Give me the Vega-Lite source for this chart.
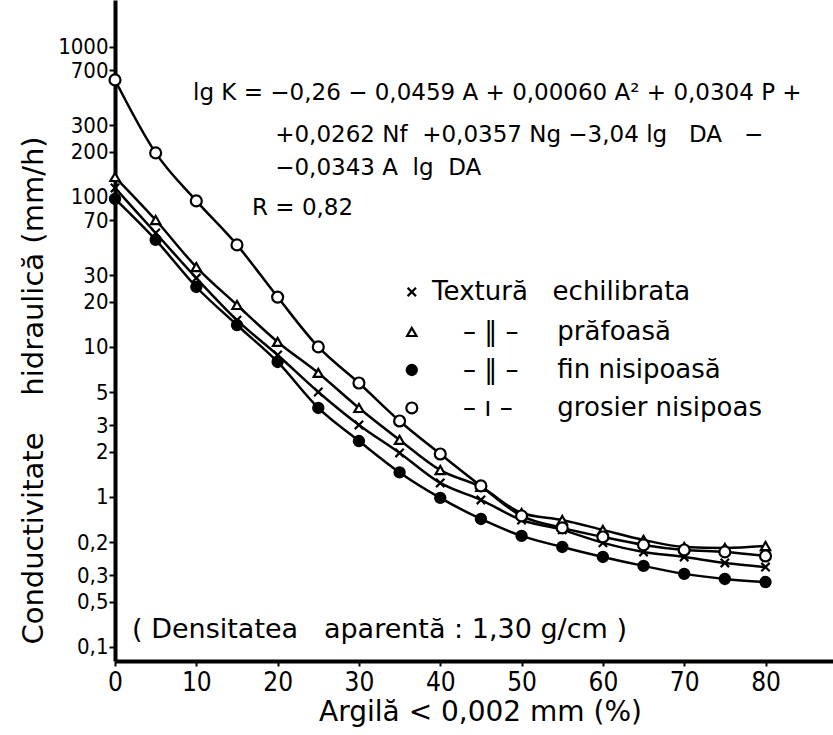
{
  "$schema": "https://vega.github.io/schema/vega-lite/v6.json",
  "width": 718,
  "height": 661,
  "autosize": {"type": "none"},
  "padding": {"left": 115, "top": 0, "right": 0, "bottom": 74},
  "background": "white",
  "config": {
    "view": {"stroke": null},
    "font": "Liberation Sans Narrow, DejaVu Sans Condensed, sans-serif"
  },
  "datasets": {
    "curves": [
      {"series": "Textură echilibrata", "argila": 0, "k": 114.8},
      {"series": "Textură echilibrata", "argila": 5, "k": 57.5},
      {"series": "Textură echilibrata", "argila": 10, "k": 28.8},
      {"series": "Textură echilibrata", "argila": 15, "k": 15.1},
      {"series": "Textură echilibrata", "argila": 20, "k": 8.84},
      {"series": "Textură echilibrata", "argila": 25, "k": 5.01},
      {"series": "Textură echilibrata", "argila": 30, "k": 3.02},
      {"series": "Textură echilibrata", "argila": 35, "k": 1.965},
      {"series": "Textură echilibrata", "argila": 40, "k": 1.24},
      {"series": "Textură echilibrata", "argila": 45, "k": 0.955},
      {"series": "Textură echilibrata", "argila": 50, "k": 0.702},
      {"series": "Textură echilibrata", "argila": 55, "k": 0.603},
      {"series": "Textură echilibrata", "argila": 60, "k": 0.494},
      {"series": "Textură echilibrata", "argila": 65, "k": 0.43},
      {"series": "Textură echilibrata", "argila": 70, "k": 0.398},
      {"series": "Textură echilibrata", "argila": 75, "k": 0.363},
      {"series": "Textură echilibrata", "argila": 80, "k": 0.341},
      {"series": "prăfoasă", "argila": 0, "k": 135.9},
      {"series": "prăfoasă", "argila": 5, "k": 70.2},
      {"series": "prăfoasă", "argila": 10, "k": 34.1},
      {"series": "prăfoasă", "argila": 15, "k": 19.05},
      {"series": "prăfoasă", "argila": 20, "k": 10.8},
      {"series": "prăfoasă", "argila": 25, "k": 6.71},
      {"series": "prăfoasă", "argila": 30, "k": 3.92},
      {"series": "prăfoasă", "argila": 35, "k": 2.4},
      {"series": "prăfoasă", "argila": 40, "k": 1.51},
      {"series": "prăfoasă", "argila": 45, "k": 1.166},
      {"series": "prăfoasă", "argila": 50, "k": 0.782},
      {"series": "prăfoasă", "argila": 55, "k": 0.702},
      {"series": "prăfoasă", "argila": 60, "k": 0.603},
      {"series": "prăfoasă", "argila": 65, "k": 0.517},
      {"series": "prăfoasă", "argila": 70, "k": 0.464},
      {"series": "prăfoasă", "argila": 75, "k": 0.457},
      {"series": "prăfoasă", "argila": 80, "k": 0.471},
      {"series": "fin nisipoasă", "argila": 0, "k": 97.0},
      {"series": "fin nisipoasă", "argila": 5, "k": 51.7},
      {"series": "fin nisipoasă", "argila": 10, "k": 25.1},
      {"series": "fin nisipoasă", "argila": 15, "k": 14.0},
      {"series": "fin nisipoasă", "argila": 20, "k": 7.94},
      {"series": "fin nisipoasă", "argila": 25, "k": 3.92},
      {"series": "fin nisipoasă", "argila": 30, "k": 2.36},
      {"series": "fin nisipoasă", "argila": 35, "k": 1.457},
      {"series": "fin nisipoasă", "argila": 40, "k": 0.985},
      {"series": "fin nisipoasă", "argila": 45, "k": 0.713},
      {"series": "fin nisipoasă", "argila": 50, "k": 0.55},
      {"series": "fin nisipoasă", "argila": 55, "k": 0.464},
      {"series": "fin nisipoasă", "argila": 60, "k": 0.398},
      {"series": "fin nisipoasă", "argila": 65, "k": 0.347},
      {"series": "fin nisipoasă", "argila": 70, "k": 0.307},
      {"series": "fin nisipoasă", "argila": 75, "k": 0.284},
      {"series": "fin nisipoasă", "argila": 80, "k": 0.271},
      {"series": "grosier nisipoas", "argila": 0, "k": 602.6},
      {"series": "grosier nisipoas", "argila": 5, "k": 196.6},
      {"series": "grosier nisipoas", "argila": 10, "k": 94.1},
      {"series": "grosier nisipoas", "argila": 15, "k": 47.9},
      {"series": "grosier nisipoas", "argila": 20, "k": 21.5},
      {"series": "grosier nisipoas", "argila": 25, "k": 10.0},
      {"series": "grosier nisipoas", "argila": 30, "k": 5.75},
      {"series": "grosier nisipoas", "argila": 35, "k": 3.21},
      {"series": "grosier nisipoas", "argila": 40, "k": 1.934},
      {"series": "grosier nisipoas", "argila": 45, "k": 1.184},
      {"series": "grosier nisipoas", "argila": 50, "k": 0.747},
      {"series": "grosier nisipoas", "argila": 55, "k": 0.622},
      {"series": "grosier nisipoas", "argila": 60, "k": 0.541},
      {"series": "grosier nisipoas", "argila": 65, "k": 0.479},
      {"series": "grosier nisipoas", "argila": 70, "k": 0.443},
      {"series": "grosier nisipoas", "argila": 75, "k": 0.43},
      {"series": "grosier nisipoas", "argila": 80, "k": 0.404}
    ],
    "notes": [
      {"t": "lg K = −0,26 − 0,0459 A + 0,00060 A² + 0,0304 P +", "argila": 9.6, "k": 493},
      {"t": "+0,0262 Nf\u00a0\u00a0+0,0357 Ng −3,04 lg\u00a0\u00a0\u00a0DA\u00a0\u00a0\u00a0−", "argila": 19.7, "k": 259},
      {"t": "−0,0343 A\u00a0\u00a0lg\u00a0\u00a0DA", "argila": 19.7, "k": 156},
      {"t": "R = 0,82", "argila": 16.85, "k": 84.5}
    ],
    "note2": [
      {"t": "( Densitatea\u00a0\u00a0\u00a0aparentă : 1,30 g/cm )", "argila": 2.1, "k": 0.13}
    ],
    "legendSymbols": [
      {"series": "Textură echilibrata", "argila": 36.5, "k": 23.26},
      {"series": "prăfoasă", "argila": 36.5, "k": 12.59},
      {"series": "fin nisipoasă", "argila": 36.5, "k": 7.02},
      {"series": "grosier nisipoas", "argila": 36.5, "k": 3.92}
    ],
    "legendLabels": [
      {"t": "Textură\u00a0\u00a0\u00a0echilibrata", "argila": 39.0, "k": 23.26},
      {"t": "– ‖ –", "argila": 42.8, "k": 12.59},
      {"t": "prăfoasă", "argila": 54.4, "k": 12.59},
      {"t": "– ‖ –", "argila": 42.8, "k": 7.02},
      {"t": "fin nisipoasă", "argila": 54.4, "k": 7.02},
      {"t": "– ı –", "argila": 42.8, "k": 3.92},
      {"t": "grosier nisipoas", "argila": 54.4, "k": 3.92}
    ]
  },
  "data": {"name": "curves"},
  "encoding": {
    "x": {
      "field": "argila",
      "type": "quantitative",
      "scale": {"domain": [0, 88.3], "nice": false, "zero": false},
      "axis": {
        "values": [0, 10, 20, 30, 40, 50, 60, 70, 80],
        "grid": false,
        "domainColor": "black",
        "domainWidth": 4,
        "tickColor": "black",
        "tickWidth": 2,
        "tickSize": 5,
        "labelColor": "black",
        "labelFontSize": 26,
        "labelPadding": 3,
        "labelFlush": false,
        "title": "Argilă < 0,002 mm (%)",
        "titleFont": "DejaVu Sans, sans-serif",
        "titleFontSize": 28,
        "titleFontWeight": "normal",
        "titleColor": "black",
        "titleX": 365,
        "titleY": 51,
        "titleBaseline": "middle",
        "titleAlign": "center"
      }
    },
    "y": {
      "field": "k",
      "type": "quantitative",
      "scale": {"type": "log", "domain": [0.0806, 2056], "nice": false},
      "axis": {
        "values": [1000, 700, 300, 200, 100, 70, 30, 20, 10, 5, 3, 2, 1, 0.5, 0.3, 0.2, 0.1],
        "labelExpr": "datum.value == 0.5 ? '0,2' : datum.value == 0.2 ? '0,5' : replace(toString(datum.value), '.', ',')",
        "grid": false,
        "domainColor": "black",
        "domainWidth": 4,
        "tickColor": "black",
        "tickWidth": 2,
        "tickSize": 6,
        "labelColor": "black",
        "labelFontSize": 22,
        "labelPadding": 1,
        "labelFlush": false,
        "labelOverlap": false,
        "title": "Conductivitate\u00a0\u00a0\u00a0\u00a0hidraulică (mm/h)",
        "titleFont": "DejaVu Sans, sans-serif",
        "titleFontSize": 29,
        "titleFontWeight": "normal",
        "titleColor": "black",
        "titleAngle": 270,
        "titleX": -82,
        "titleY": 390,
        "titleBaseline": "middle",
        "titleAlign": "center"
      }
    },
    "shape": {
      "field": "series",
      "type": "nominal",
      "scale": {
        "domain": ["Textură echilibrata", "prăfoasă", "fin nisipoasă", "grosier nisipoas"],
        "range": ["M-1,-1L1,1M1,-1L-1,1", "triangle-up", "circle", "circle"]
      },
      "legend": null
    },
    "fill": {
      "field": "series",
      "type": "nominal",
      "scale": {
        "domain": ["Textură echilibrata", "prăfoasă", "fin nisipoasă", "grosier nisipoas"],
        "range": ["transparent", "white", "black", "white"]
      },
      "legend": null
    },
    "size": {
      "field": "series",
      "type": "nominal",
      "scale": {
        "domain": ["Textură echilibrata", "prăfoasă", "fin nisipoasă", "grosier nisipoas"],
        "range": [70, 120, 30, 120]
      },
      "legend": null
    }
  },
  "layer": [
    {
      "mark": {"type": "line", "interpolate": "monotone", "color": "black", "strokeWidth": 2.5},
      "encoding": {"detail": {"field": "series"}, "shape": null, "fill": null, "size": null}
    },
    {
      "mark": {"type": "point", "color": "black", "stroke": "black", "strokeWidth": 2.2, "opacity": 1}
    },
    {
      "data": {"name": "legendSymbols"},
      "mark": {"type": "point", "color": "black", "stroke": "black", "strokeWidth": 2.2, "opacity": 1}
    },
    {
      "data": {"name": "legendLabels"},
      "mark": {"type": "text", "align": "left", "baseline": "middle", "fontSize": 26, "font": "DejaVu Sans, sans-serif", "color": "black"},
      "encoding": {"text": {"field": "t", "type": "nominal"}, "shape": null, "fill": null, "size": null}
    },
    {
      "data": {"name": "notes"},
      "mark": {"type": "text", "align": "left", "baseline": "middle", "fontSize": 23, "font": "DejaVu Sans, sans-serif", "color": "black"},
      "encoding": {"text": {"field": "t", "type": "nominal"}, "shape": null, "fill": null, "size": null}
    },
    {
      "data": {"name": "note2"},
      "mark": {"type": "text", "align": "left", "baseline": "middle", "fontSize": 27, "font": "DejaVu Sans, sans-serif", "color": "black"},
      "encoding": {"text": {"field": "t", "type": "nominal"}, "shape": null, "fill": null, "size": null}
    }
  ]
}
